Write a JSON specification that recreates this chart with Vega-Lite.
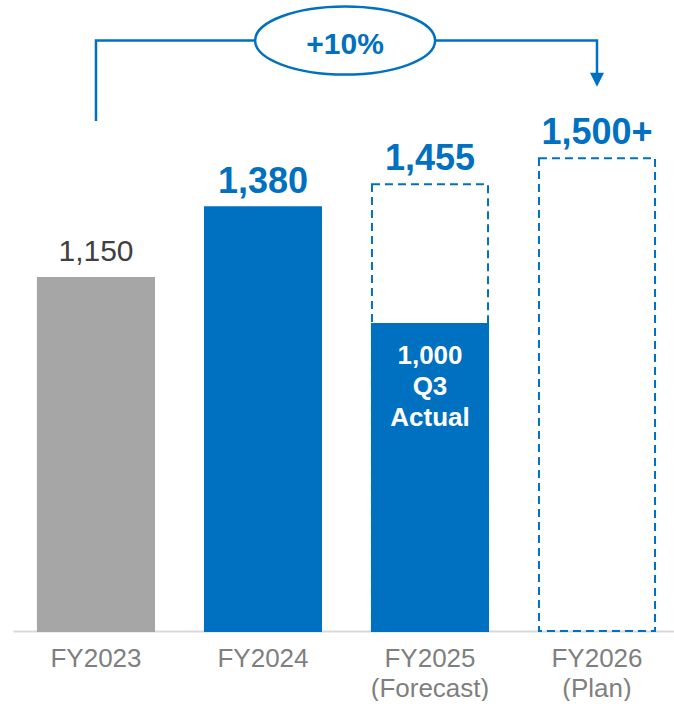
{
  "$schema": "https://vega.github.io/schema/vega-lite/v6.json",
  "width": 674,
  "height": 631,
  "padding": 0,
  "autosize": {"type": "pad"},
  "background": "white",
  "config": {"view": {"stroke": null}, "font": "Liberation Sans"},
  "datasets": {
    "bars": [
      {"year": "FY2023", "total": 1150, "solid": 1150, "label": "1,150", "kind": "actual"},
      {"year": "FY2024", "total": 1380, "solid": 1380, "label": "1,380", "kind": "actual"},
      {"year": "FY2025 (Forecast)", "total": 1455, "solid": 1000, "label": "1,455", "kind": "forecast", "inner": "1,000\nQ3\nActual"},
      {"year": "FY2026 (Plan)", "total": 1540, "label": "1,500+", "kind": "plan"}
    ],
    "bracket": [
      {"year": "FY2023", "v": 1661, "i": 1},
      {"year": "FY2023", "v": 1923, "i": 2},
      {"year": "FY2026 (Plan)", "v": 1923, "i": 3},
      {"year": "FY2026 (Plan)", "v": 1800, "i": 4}
    ],
    "arrow": [{"year": "FY2026 (Plan)", "v": 1795}],
    "growth": [{"year": "FY2024", "v": 1923, "label": "+10%"}]
  },
  "encoding": {
    "x": {
      "field": "year",
      "type": "nominal",
      "sort": null,
      "scale": {
        "domain": ["FY2023", "FY2024", "FY2025 (Forecast)", "FY2026 (Plan)"],
        "range": [13, 674],
        "paddingInner": 0.305,
        "paddingOuter": 0.1315,
        "align": 0.568
      },
      "axis": {
        "title": null,
        "ticks": false,
        "tickSize": 0,
        "grid": false,
        "domainColor": "#d9d9d9",
        "domainWidth": 2,
        "labelFont": "Liberation Sans",
        "labelFontSize": 26,
        "labelColor": "#7f7f7f",
        "labelPadding": 14,
        "labelLineHeight": 30,
        "labelAngle": 0,
        "labelExpr": "split(datum.label, ' ')"
      }
    }
  },
  "layer": [
    {
      "data": {"name": "bars"},
      "transform": [{"filter": "datum.kind !== 'actual'"}],
      "mark": {"type": "bar", "fill": "transparent", "stroke": "#0070C0", "strokeWidth": 2, "strokeDash": [8, 5]},
      "encoding": {
        "y": {"field": "total", "type": "quantitative", "scale": {"domain": [0, 2055], "nice": false, "zero": true}, "axis": null}
      }
    },
    {
      "data": {"name": "bars"},
      "transform": [{"filter": "isValid(datum.solid)"}],
      "mark": {"type": "bar", "strokeWidth": 2},
      "encoding": {
        "y": {"field": "solid", "type": "quantitative", "axis": null},
        "color": {"condition": {"test": "datum.year === 'FY2023'", "value": "#A6A6A6"}, "value": "#0070C0"},
        "stroke": {"condition": {"test": "datum.year === 'FY2023'", "value": "#A6A6A6"}, "value": "#0070C0"}
      }
    },
    {
      "data": {"name": "bars"},
      "transform": [{"filter": "datum.year !== 'FY2023'"}],
      "mark": {"type": "text", "font": "Liberation Sans", "fontSize": 36, "fontWeight": "bold", "color": "#0070C0", "baseline": "alphabetic", "dy": -14},
      "encoding": {
        "y": {"field": "total", "type": "quantitative", "axis": null},
        "text": {"field": "label"}
      }
    },
    {
      "data": {"name": "bars"},
      "transform": [{"filter": "datum.year === 'FY2023'"}],
      "mark": {"type": "text", "font": "Liberation Sans", "fontSize": 30, "color": "#404040", "baseline": "alphabetic", "dy": -17},
      "encoding": {
        "y": {"field": "total", "type": "quantitative", "axis": null},
        "text": {"field": "label"}
      }
    },
    {
      "data": {"name": "bars"},
      "transform": [{"filter": "isValid(datum.inner)"}],
      "mark": {"type": "text", "font": "Liberation Sans", "fontSize": 26, "fontWeight": "bold", "color": "#ffffff", "baseline": "alphabetic", "lineBreak": "\n", "lineHeight": 31, "dy": 40},
      "encoding": {
        "y": {"field": "solid", "type": "quantitative", "axis": null},
        "text": {"field": "inner"}
      }
    },
    {
      "data": {"name": "bracket"},
      "mark": {"type": "line", "color": "#0070C0", "strokeWidth": 2.5, "strokeCap": "butt", "strokeJoin": "miter"},
      "encoding": {
        "y": {"field": "v", "type": "quantitative", "axis": null},
        "order": {"field": "i", "type": "quantitative"}
      }
    },
    {
      "data": {"name": "growth"},
      "mark": {"type": "point", "shape": "M-1,0A1,0.378,0,1,1,1,0A1,0.378,0,1,1,-1,0Z", "size": 32400, "filled": true, "fill": "#ffffff", "stroke": "#0070C0", "strokeWidth": 2.5, "opacity": 1},
      "encoding": {
        "x": {"field": "year", "type": "nominal", "sort": null, "bandPosition": 1.2076},
        "y": {"field": "v", "type": "quantitative", "axis": null}
      }
    },
    {
      "data": {"name": "growth"},
      "mark": {"type": "text", "font": "Liberation Sans", "fontSize": 30, "fontWeight": "bold", "color": "#0070C0", "baseline": "alphabetic", "dy": 13},
      "encoding": {
        "x": {"field": "year", "type": "nominal", "sort": null, "bandPosition": 1.2076},
        "y": {"field": "v", "type": "quantitative", "axis": null},
        "text": {"field": "label"}
      }
    },
    {
      "data": {"name": "arrow"},
      "mark": {"type": "point", "shape": "M-1,-1L1,-1L0,1Z", "size": 196, "filled": true, "color": "#0070C0", "opacity": 1, "strokeWidth": 0},
      "encoding": {
        "y": {"field": "v", "type": "quantitative", "axis": null}
      }
    }
  ]
}
